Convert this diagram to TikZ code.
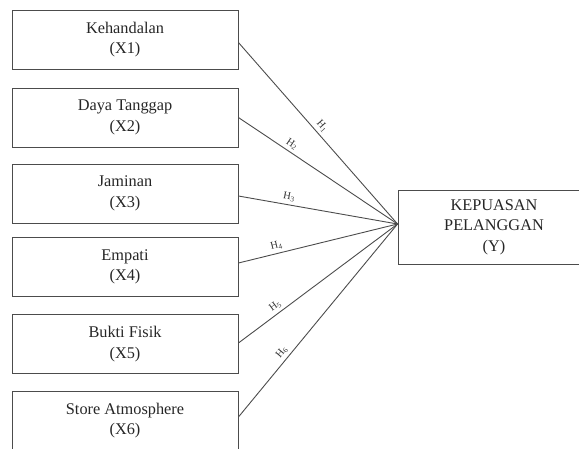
\documentclass[tikz,border=0pt]{standalone}
\usepackage{fontspec}
\setmainfont{Liberation Serif}
\begin{document}
\begin{tikzpicture}[x=1pt,y=-1pt,
  box/.style={draw=black!70, line width=0.9pt, minimum width=226pt, minimum height=59pt,
    align=center, inner sep=0pt, text=black!85, font=\fontsize{16.3}{20.5}\selectfont},
  link/.style={draw=black!70, line width=0.9pt},
  hlab/.style={font=\fontsize{10.5}{11}\selectfont, text=black!80, sloped, above, inner sep=1pt, yshift=2pt, pos=#1}
]
\useasboundingbox (0,0) rectangle (579,448);
\node[box] (x1) at (125,39.5) {Kehandalan\\(X1)};
\node[box] (x2) at (125,117.5) {Daya Tanggap\\(X2)};
\node[box] (x3) at (125,193.5) {Jaminan\\(X3)};
\node[box] (x4) at (125,267) {Empati\\(X4)};
\node[box] (x5) at (125,344) {Bukti Fisik\\(X5)};
\node[box] (x6) at (125,420.5) {Store Atmosphere\\(X6)};
\node[box, minimum width=192pt, minimum height=74pt] (y) at (494,227) {KEPUASAN\\PELANGGAN\\(Y)};
\coordinate (t) at ([yshift=3pt]y.west);
\draw[link] ([yshift=-3pt]x1.east) -- node[hlab=0.49]{H\textsubscript{1}} (t);
\draw[link] (x2.east) -- node[hlab=0.31]{H\textsubscript{2}} (t);
\draw[link] ([yshift=-2.5pt]x3.east) -- node[hlab=0.31]{H\textsubscript{3}} (t);
\draw[link] ([yshift=4pt]x4.east) -- node[hlab=0.25]{H\textsubscript{4}} (t);
\draw[link] ([yshift=1pt]x5.east) -- node[hlab=0.26]{H\textsubscript{5}} (t);
\draw[link] ([yshift=3.5pt]x6.east) -- node[hlab=0.31]{H\textsubscript{6}} (t);
\end{tikzpicture}
\end{document}
